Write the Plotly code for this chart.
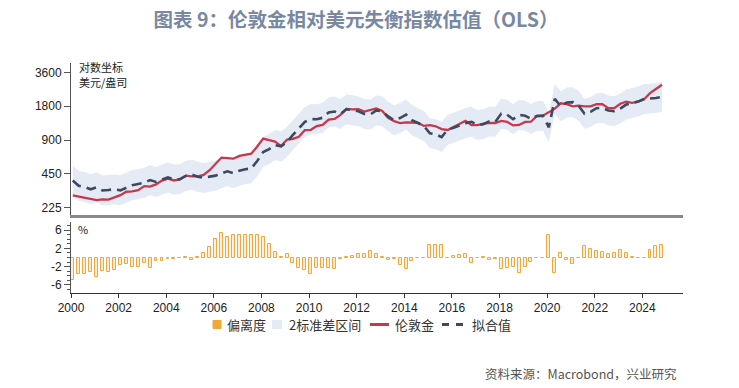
import plotly.graph_objects as go
import math

# ---------------- data (quarterly, 2000Q1 .. 2024Q4) ----------------
quarters = [f"{y}Q{q}" for y in range(2000, 2025) for q in range(1, 5)]
dates = [f"{2000 + i // 4}-{1 + 3 * (i % 4):02d}-28" for i in range(len(quarters))]

gold = [290, 282, 276, 270, 263, 267, 266, 278,
        291, 312, 314, 322, 350, 347, 363, 392,
        408, 393, 401, 434, 427, 428, 440, 485,
        555, 628, 622, 614, 650, 667, 680, 788,
        925, 896, 872, 795, 908, 922, 960, 1100,
        1109, 1197, 1227, 1367, 1386, 1506, 1702, 1688,
        1691, 1609, 1652, 1720, 1632, 1415, 1326, 1272,
        1293, 1288, 1282, 1201, 1218, 1192, 1124, 1106,
        1183, 1260, 1335, 1222, 1219, 1257, 1278, 1275,
        1329, 1306, 1213, 1226, 1304, 1309, 1472, 1481,
        1583, 1711, 1909, 1874, 1794, 1816, 1789, 1795,
        1877, 1871, 1729, 1726, 1890, 1976, 1929, 1976,
        2070, 2350, 2560, 2790]

fitted = [392, 353, 344, 328, 342, 320, 323, 329,
          321, 340, 357, 366, 374, 396, 381, 400,
          418, 400, 403, 431, 443, 425, 414, 425,
          434, 455, 474, 456, 480, 495, 502, 586,
          704, 747, 811, 790, 865, 998, 1150, 1304,
          1380, 1376, 1419, 1581, 1613, 1534, 1692, 1658,
          1621, 1533, 1518, 1648, 1622, 1458, 1350, 1410,
          1514, 1352, 1282, 1201, 1034, 1012, 955, 1113,
          1155, 1222, 1272, 1306, 1226, 1242, 1317, 1306,
          1546, 1510, 1378, 1507, 1481, 1383, 1472, 1481,
          1167, 2090, 1797, 1943, 1953, 1816, 1538, 1600,
          1724, 1741, 1647, 1625, 1715, 1860, 1917, 1976,
          2083, 2100, 2130, 2180]

deviation = [-5.0, -3.7, -3.6, -3.2, -4.3, -3.0, -3.2, -2.8,
             -1.6, -1.4, -2.1, -2.1, -1.1, -2.2, -0.8, -0.8,
             -0.4, -0.3, -0.1, 0.1, -0.6, 0.1, 1.0, 2.2,
             4.1, 5.3, 4.5, 4.9, 5.0, 4.9, 5.0, 4.9,
             4.5, 3.0, 1.2, 0.1, 0.8, -1.3, -2.4, -2.8,
             -3.6, -2.3, -2.4, -2.4, -2.5, -0.3, 0.1, 0.3,
             0.7, 0.8, 1.4, 0.7, 0.1, -0.5, -0.3, -1.7,
             -2.6, -0.8, 0.0, 0.0, 2.7, 2.7, 2.7, -0.1,
             0.4, 0.5, 0.8, -1.1, -0.1, 0.2, -0.5, -0.4,
             -2.5, -2.4, -2.1, -3.4, -2.1, -0.9, 0.0, 0.0,
             5.0, -3.3, 1.0, -0.6, -1.4, 0.0, 2.5, 1.9,
             1.4, 1.2, 0.8, 1.0, 1.6, 1.0, 0.1, 0.0,
             -0.1, 1.7, 2.5, 2.7]

BAND_FACTOR = 1.36
band_upper = [v * BAND_FACTOR for v in fitted]
band_lower = [v / BAND_FACTOR for v in fitted]

price_ticks = [225, 450, 900, 1800, 3600]
dev_ticks = [-6, -2, 2, 6]
year_ticks = list(range(2000, 2025, 2))

# ---------------- layout geometry ----------------
W, H = 739, 388
ML, MR, MT, MB = 71, 56, 63, 95
PW, PH = W - ML - MR, H - MT - MB


def px_x(px):
    return (px - ML) / PW


def px_y(py):
    return (H - MB - py) / PH


RED = "#c8384c"
DASH = "#3c4a60"
BAND = "#e5ebf5"
ORANGE = "#f2a73a"
BAR_FILL = "#fdf1dc"
CJK = "Noto Sans CJK SC"

fig = go.Figure()

fig.add_trace(go.Bar(x=dates, y=deviation, name="偏离度", xaxis="x2", yaxis="y2",
                     marker=dict(color=BAR_FILL, line=dict(color=ORANGE, width=1)),
                     width=45 * 86400000, showlegend=False))
fig.add_trace(go.Scatter(x=dates, y=band_lower, mode="lines", line=dict(width=0),
                         showlegend=False, hoverinfo="skip"))
fig.add_trace(go.Scatter(x=dates, y=band_upper, mode="lines", line=dict(width=0),
                         fill="tonexty", fillcolor=BAND, name="2标准差区间", showlegend=False))
fig.add_trace(go.Scatter(x=dates, y=gold, mode="lines", name="伦敦金",
                         line=dict(color=RED, width=2.3), showlegend=False))
fig.add_trace(go.Scatter(x=dates, y=fitted, mode="lines", name="拟合值",
                         line=dict(color=DASH, width=2.6, dash="10px,6px"), showlegend=False))

xrange = ["2000-01-01", "2025-09-16"]
tickfont = dict(family="Liberation Sans, " + CJK, size=12, color="#222")

fig.update_layout(
    width=W, height=H, margin=dict(l=ML, r=MR, t=MT, b=MB),
    paper_bgcolor="white", plot_bgcolor="white", bargap=0,
    title=dict(text="<b>图表 9：伦敦金相对美元失衡指数估值（OLS）</b>",
               x=356 / W, xanchor="center", y=1 - 20 / H, yanchor="middle",
               font=dict(family=CJK, size=19.5, color="#7888a2")),
    xaxis=dict(domain=[0, 1], range=xrange, anchor="y", type="date",
               showline=True, linecolor="#8a8a8a", linewidth=3,
               showticklabels=False, ticks="", showgrid=False, zeroline=False),
    yaxis=dict(domain=[px_y(215), 1], type="log",
               range=[math.log10(193.8), math.log10(4355)],
               tickvals=price_ticks, ticktext=[str(v) for v in price_ticks],
               showline=True, linecolor="#555", linewidth=1,
               ticks="outside", ticklen=6, tickcolor="#555",
               showgrid=False, zeroline=False, tickfont=tickfont),
    xaxis2=dict(domain=[0, 1], range=xrange, anchor="y2", type="date",
                tickvals=[f"{y}-01-01" for y in year_ticks],
                ticktext=[str(y) for y in year_ticks],
                showline=True, linecolor="#333", linewidth=1,
                ticks="outside", ticklen=4, tickcolor="#333",
                showgrid=False, zeroline=False, tickfont=tickfont),
    yaxis2=dict(domain=[0, px_y(222)], range=[-7.8, 7.8],
                tickvals=dev_ticks, ticktext=[str(v) for v in dev_ticks],
                showline=True, linecolor="#555", linewidth=1,
                ticks="outside", ticklen=6, tickcolor="#555",
                minor=dict(tickvals=list(range(-7, 8)), ticks="outside", ticklen=3, tickcolor="#555"),
                showgrid=False, zeroline=False, tickfont=tickfont),
)

ann = []
ann.append(dict(text="对数坐标", x=px_x(77), y=px_y(67), xanchor="left", yanchor="middle"))
ann.append(dict(text="美元/盎司", x=px_x(77), y=px_y(82), xanchor="left", yanchor="middle"))
ann.append(dict(text="%", x=px_x(76), y=px_y(229), xanchor="left", yanchor="middle"))
for a in ann:
    a.update(xref="paper", yref="paper", showarrow=False,
             font=dict(family=CJK, size=11, color="#222"))

# legend (custom, compact)
ly = px_y(324.5)
leg_font = dict(family=CJK, size=13, color="#333")
legend_items = [("偏离度", 225), ("2标准差区间", 287), ("伦敦金", 393), ("拟合值", 470)]
for txt, px in legend_items:
    ann.append(dict(text=txt, x=px_x(px), y=ly, xref="paper", yref="paper",
                    xanchor="left", yanchor="middle", showarrow=False, font=leg_font))

ann.append(dict(text="资料来源：Macrobond，兴业研究", x=px_x(483), y=px_y(373),
                xref="paper", yref="paper", xanchor="left", yanchor="middle",
                showarrow=False, font=dict(family=CJK, size=12.5, color="#555")))
fig.update_layout(annotations=ann)

shapes = [
    dict(type="rect", xref="paper", yref="paper", x0=px_x(213), x1=px_x(221),
         y0=px_y(320.5), y1=px_y(328.5), fillcolor=ORANGE, line=dict(color=ORANGE, width=1)),
    dict(type="rect", xref="paper", yref="paper", x0=px_x(272), x1=px_x(282),
         y0=px_y(320), y1=px_y(329), fillcolor=BAND, line=dict(width=0)),
    dict(type="line", xref="paper", yref="paper", x0=px_x(370), x1=px_x(389),
         y0=ly, y1=ly, line=dict(color=RED, width=3)),
    dict(type="line", xref="paper", yref="paper", x0=px_x(442), x1=px_x(466),
         y0=ly, y1=ly, line=dict(color=DASH, width=3, dash="7px,7px")),
]
fig.update_layout(shapes=shapes)

fig.write_html("out.html", config={"displayModeBar": False},
               post_script="document.body.style.margin='0';")
